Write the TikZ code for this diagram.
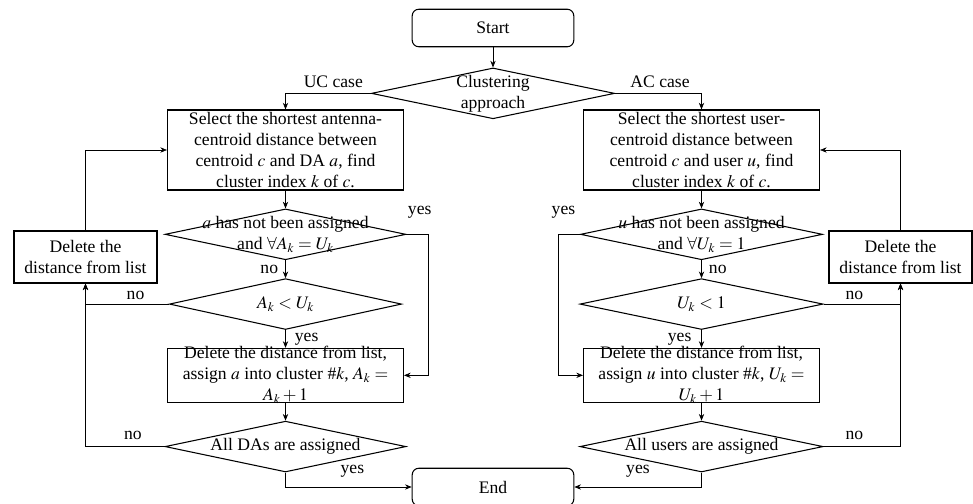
\documentclass[tikz,border=0pt]{standalone}
\usepackage{amsmath}
\usepackage{mathptmx}
\usepackage[no-math]{fontspec}
\setmainfont{Liberation Serif}
\usetikzlibrary{
    positioning, % relative placement (below=of)
    arrows.meta, % arrow tips (Stealth)
    shapes.geometric % diamond shape
}

\begin{document}
\begin{tikzpicture}[x=0.75pt, y=-0.75pt, node distance=0.47cm,
    font=\fontsize{13.2pt}{15.75pt}\selectfont]

    % --- Styles ---
    \tikzset{
        % Rounded box for start and end
        terminal/.style={
            draw,
            line width=0.8pt,
            rounded corners=5pt,
            minimum width=4.26cm,
            minimum height=0.99cm
        },
        % Box for the steps
        process/.style={
            draw,
            line width=0.8pt,
            minimum width=6.22cm,
            minimum height=2.11cm,
            inner sep=1pt,
            align=center
        },
        % Diamond for the tests (its text goes in a centred label)
        decision/.style={
            diamond,
            draw,
            line width=0.8pt,
            minimum width=6.35cm,
            minimum height=1.34cm,
            inner sep=0pt
        },
        % Connector with arrow tip
        flow/.style={
            -{Stealth[length=5pt, width=4pt]},
            line width=0.5pt
        }
    }

    \useasboundingbox (0,0) rectangle (973,503);

    % --- Nodes: top ---
    \node[terminal] (start) at (493,28) {Start};
    \node[decision, minimum width=6.41cm, below=0.53cm of start,
        label={[align=center]center:Clustering\\approach}] (clust) {};

    % --- Nodes: UC case (left) ---
    \node[process] (selA) at (285.5,150) {Select the shortest antenna-\\centroid distance between\\centroid $c$ and DA $a$, find\\cluster index $k$ of $c$.};
    \node[decision, below=of selA,
        label={[align=center]center:{$a$ has not been assigned\\and $\forall A_k = U_k$}}] (chkA) {};
    \node[decision, minimum width=6.12cm, below=of chkA,
        label={center:$A_k < U_k$}] (cmpA) {};
    \node[process, minimum height=1.42cm, below=of cmpA,
        label={[align=center]center:{Delete the distance from list,\\assign $a$ into cluster \#$k$, $A_k =$\\$A_k + 1$}}] (asgA) {};
    \node[decision, below=of asgA,
        label={center:All DAs are assigned}] (allA) {};
    \node[process, minimum width=3.77cm, minimum height=1.37cm] (delA) at (85.5,257) {Delete the\\distance from list};

    % --- Nodes: AC case (right) ---
    \node[process] (selB) at (701.5,150) {Select the shortest user-\\centroid distance between\\centroid $c$ and user $u$, find\\cluster index $k$ of $c$.};
    \node[decision, minimum width=6.38cm, below=of selB,
        label={[align=center]center:{$u$ has not been assigned\\and $\forall U_k = 1$}}] (chkB) {};
    \node[decision, minimum width=6.41cm, below=of chkB,
        label={center:$U_k < 1$}] (cmpB) {};
    \node[process, minimum height=1.42cm, below=of cmpB,
        label={[align=center]center:{Delete the distance from list,\\assign $u$ into cluster \#$k$, $U_k =$\\$U_k + 1$}}] (asgB) {};
    \node[decision, minimum width=6.41cm, below=of asgB,
        label={center:All users are assigned}] (allB) {};
    \node[process, minimum width=3.77cm, minimum height=1.37cm] (delB) at (900.5,257) {Delete the\\distance from list};

    \node[terminal] (finish) at (493,487) {End};

    % --- Connectors ---
    \draw[flow] (start) -- (clust);
    \draw[flow] (clust.west) -| node[pos=0.22, above=1pt] {UC case} (selA.north);
    \draw[flow] (clust.east) -| node[pos=0.26, above=1pt] {AC case} (selB.north);

    % left branch
    \draw[flow] (selA) -- (chkA);
    \draw[flow] (chkA) -- node[left=2pt] {no} (cmpA);
    \draw[flow] (chkA.east) -- ++(22,0) node[pos=0.6, above=8.5pt] {yes} |- (asgA.east);
    \draw[flow] (cmpA) -- node[right=3.5pt] {yes} (asgA);
    \draw[flow] (cmpA.west) -| node[pos=0.2, above] {no} (delA.south);
    \draw[flow] (asgA) -- (allA);
    \draw[flow] (allA.west) -| node[pos=0.2, above=1.5pt] {no} (delA.south);
    \draw[flow] (allA.south) |- node[pos=0.765, above=3.5pt] {yes} (finish.west);
    \draw[flow] (delA.north) |- (selA.west);

    % right branch
    \draw[flow] (selB) -- (chkB);
    \draw[flow] (chkB) -- node[right=2pt] {no} (cmpB);
    \draw[flow] (chkB.west) -- ++(-22,0) node[pos=0.75, above=8.5pt] {yes} |- (asgB.west);
    \draw[flow] (cmpB) -- node[left=4pt] {yes} (asgB);
    \draw[flow] (cmpB.east) -| node[pos=0.2, above] {no} (delB.south);
    \draw[flow] (asgB) -- (allB);
    \draw[flow] (allB.east) -| node[pos=0.2, above=1.5pt] {no} (delB.south);
    \draw[flow] (allB.south) |- node[pos=0.75, above=3.5pt] {yes} (finish.east);
    \draw[flow] (delB.north) |- (selB.east);

\end{tikzpicture}
\end{document}
